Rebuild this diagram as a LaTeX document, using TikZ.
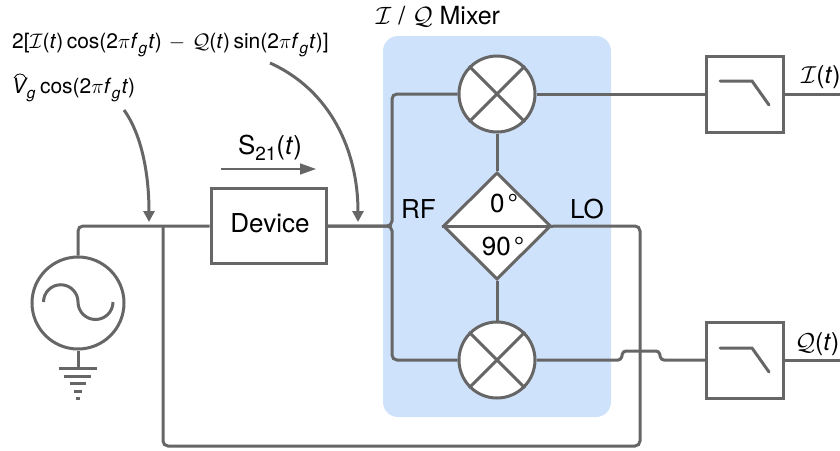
\documentclass[tikz,border=0pt]{standalone}
\usepackage{fix-cm}
\usepackage{amsmath}
\usepackage{fontspec}
\setmainfont{TeX Gyre Heros}
\usetikzlibrary{arrows.meta,shapes.geometric}
\definecolor{wirec}{HTML}{666666}
\definecolor{bgblue}{HTML}{CFE2FB}
\newcommand{\tI}{\textit}
\newcommand{\fsz}[1]{\fontsize{#1}{#1}\selectfont}
\newcommand{\fg}{\tI{f}\kern0.5pt\raisebox{-0.25em}{\fsz{15.5}\tI{g}}\kern1pt\tI{t}}
\tikzset{
  wire/.style={draw=wirec,line width=3pt},
  roundwire/.style={wire,rounded corners=5pt},
  callout/.style={draw=wirec,line width=3pt,-{Triangle[length=11pt,width=11pt]}},
  boxnode/.style={draw=wirec,line width=3pt,fill=white,inner sep=0pt,rectangle},
  mixnode/.style={draw=wirec,line width=3pt,fill=white,inner sep=0pt,circle,minimum size=76pt},
  lbl/.style={inner sep=0pt,text=black,font=\fsz{26}},
  eqn/.style={inner sep=0pt,text=black,anchor=west,font=\fsz{21}},
}
\begin{document}
\begin{tikzpicture}[x=1pt,y=-1pt]
\useasboundingbox (0,0) rectangle (840,450);
\fill[bgblue,rounded corners=15pt] (383,36) rectangle (611,417);
% nodes
\node[mixnode] (mixI) at (497,94) {};
\node[mixnode] (mixQ) at (497,360) {};
\node[draw=wirec,line width=3pt,fill=white,diamond,aspect=1,inner sep=0pt,minimum width=108pt,minimum height=107pt] (hyb) at (497,226) {};
\node[boxnode,minimum width=115pt,minimum height=75pt] (dev) at (268.5,226) {};
\node[boxnode,minimum width=77pt,minimum height=76pt] (lpI) at (745,94) {};
\node[boxnode,minimum width=77pt,minimum height=76pt] (lpQ) at (745,360) {};
\node[draw=wirec,line width=3pt,circle,fill=white,inner sep=0pt,minimum size=92pt] (src) at (78,303) {};
% coordinates
\coordinate (gnd) at (78,368);
\coordinate (junc) at (163,226);
\coordinate (rfT) at (392,94);
\coordinate (rfB) at (392,360);
\coordinate (botR) at (640,446);
\coordinate (outI) at (840,94);
\coordinate (outQ) at (840,360);
\coordinate (a1s) at (124,110);
\coordinate (a1e) at (149,222);
\coordinate (a2s) at (270,63);
\coordinate (a2e) at (358,222);
\coordinate (s1) at (221,169);
\coordinate (s2) at (316,169);
% symbols
\draw[wire] (mixI.45) -- (mixI.225) (mixI.135) -- (mixI.315);
\draw[wire] (mixQ.45) -- (mixQ.225) (mixQ.135) -- (mixQ.315);
\draw[wire] (hyb.west) -- (hyb.east);
\draw[wire,line cap=round] (720,81) -- (752,81) -- (769,105);
\draw[wire,line cap=round] (720,348) -- (752,348) -- (769,372);
\draw[wire] (43.5,302) arc[start angle=180,end angle=0,radius=17.25pt] arc[start angle=180,end angle=360,radius=17.5pt];
% connectors
\draw[roundwire] (src.north) |- (dev.west);
\draw[wire] (src.south) -- (gnd);
\draw[wire] (59,368) -- (97,368);
\draw[wire] (64,376) -- (91,376);
\draw[wire] (70,383.5) -- (86,383.5);
\draw[wire] (74,391) -- (82,391);
\draw[wire] (76,398.5) -- (80,398.5);
\draw[roundwire] (dev.east) -| (rfT) -- (mixI.west);
\draw[roundwire] (dev.east) -| (rfB) -- (mixQ.west);
\draw[wire] (mixI.south) -- (hyb.north);
\draw[wire] (mixQ.north) -- (hyb.south);
\draw[wire] (mixI.east) -- (lpI.west);
\draw[wire] (lpI.east) -- (outI);
\draw[roundwire] (hyb.east) -| (botR) -| (junc);
\draw[roundwire,rounded corners=3pt] (mixQ.east) -- (621,360) -- (623,351) -- (659,351) -- (661,360) -- (lpQ.west);
\draw[wire] (lpQ.east) -- (outQ);
\draw[callout] (a1s) .. controls (142,135) and (149,175) .. (a1e);
\draw[callout] (a2s) .. controls (330,90) and (358,150) .. (a2e);
\draw[draw=wirec,line width=1.6pt,-{Triangle[length=16pt,width=11pt]}] (s1) -- (s2);
% labels
\node[inner sep=0pt,font=\fsz{26}] (devlbl) at (270,223) {Device};
\node[lbl,font=\fsz{25}] (mixlbl) at (438,16.5) {$\mathcal{I}$ / $\mathcal{Q}$ Mixer};
\node[lbl] (rflbl) at (418.5,209) {RF};
\node[lbl] (lolbl) at (587,209) {LO};
\node[lbl] (deg0) at (504,203) {0\kern3pt°};
\node[lbl] (deg90) at (503,246) {90\kern3pt°};
\node[lbl,anchor=west,font=\fsz{24.5}] (Ilbl) at (801,77) {$\mathcal{I}$(\tI{t})};
\node[lbl,anchor=west,font=\fsz{24.5}] (Qlbl) at (795,344) {$\mathcal{Q}$(\tI{t})};
\node[inner sep=0pt,font=\fsz{26}] (Slbl) at (270,148) {S\raisebox{-0.25em}{\fsz{19}21}(\tI{t})};
\node[eqn] (eq1) at (12,45) {2[$\mathcal{I}$(\tI{t})\,cos(2$\pi$\fg)\,\,$-$\,\,$\mathcal{Q}$(\tI{t})\,sin(2$\pi$\fg)]};
\node[eqn] (eq2) at (12,90) {\tI{V}\kern-1pt\raisebox{-0.25em}{\fsz{15.5}\tI{g}}\kern1pt\,cos(2$\pi$\fg)};
\draw[black,line width=0.8pt] (14,78) .. controls (17,72.5) and (23,72.5) .. (26,78);
\end{tikzpicture}
\end{document}
